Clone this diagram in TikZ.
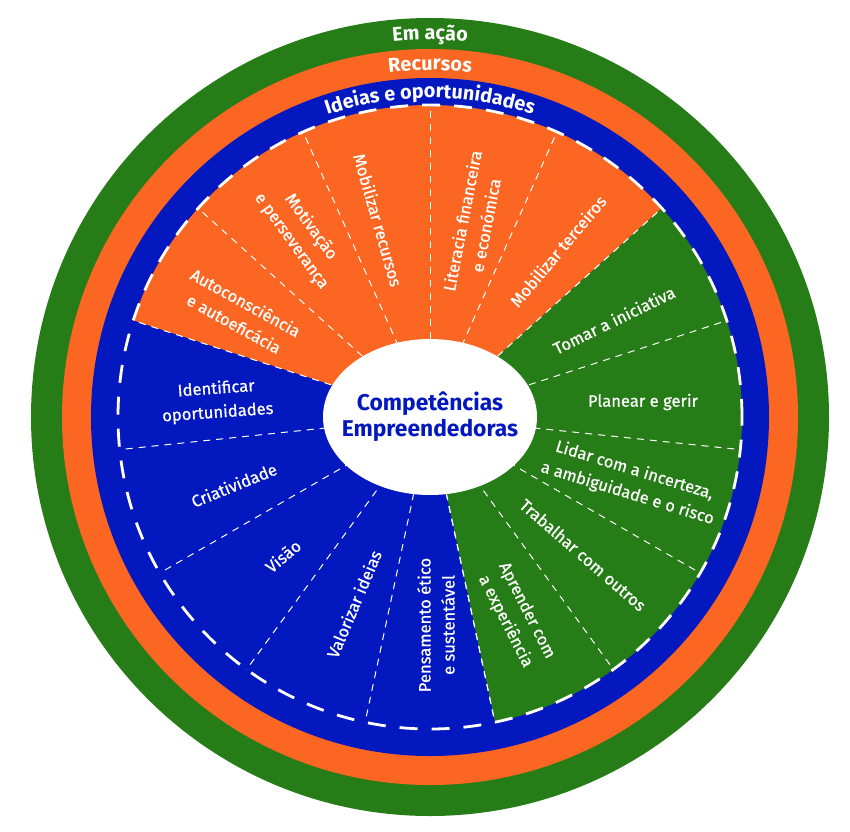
\documentclass[tikz,border=0pt]{standalone}
\usepackage{fontspec}
\setmainfont{Fira Sans}
\newfontfamily\wheelfont{Fira Sans}[FakeBold=0.7]
\usetikzlibrary{decorations.text,shapes.geometric}
\definecolor{wgreen}{RGB}{38,124,22}
\definecolor{worange}{RGB}{251,102,35}
\definecolor{wblue}{RGB}{3,24,190}
\begin{document}
\begin{tikzpicture}[x=0.5pt,y=0.5pt,
  seclabel/.style={text=white, font=\wheelfont\fontsize{8.3}{12}\selectfont, align=center, inner sep=0pt},
  raddash/.style={white, line width=0.5pt, dash pattern=on 3.5pt off 3pt},
  rimdash/.style={white, line width=1.4pt, dash pattern=on 9pt off 7pt},
  ringdeco/.style={decorate}
]
\useasboundingbox (-430,-414) rectangle (420,417);
% rings
\fill[wgreen] (0,0) circle[radius=399];
\fill[worange] (0,0) circle[radius=368];
\fill[wblue] (0,0) circle[radius=339];
% sectors
\fill[worange] (0,0) -- (42:312) arc[start angle=42, end angle=162, radius=312] -- cycle;
\fill[wgreen] (0,0) -- (-78:312) arc[start angle=-78, end angle=42, radius=312] -- cycle;
\fill[wblue] (0,0) -- (162:312) arc[start angle=162, end angle=282, radius=312] -- cycle;
% radial dashed separators
\foreach \a in {-78,-54,...,282} \draw[raddash] (0,0) -- (\a:312);
% dashed rim
\draw[rimdash] (0,0) circle[radius=312];
% hub
\node[ellipse, fill=white, minimum width=107pt, minimum height=78pt, inner sep=0pt] (hub) at (0,0) {};
\node[font=\bfseries\fontsize{11.4}{13}\selectfont, text=wblue, align=center] (title) at (hub.center) {Competências\\Empreendedoras};
% orange labels
\node[seclabel, rotate=-29] (l1) at (-190,104) {Autoconsciência\\e autoeficácia};
\node[seclabel, rotate=-54] (l2) at (-129,183) {Motivação\\e perseverança};
\node[seclabel, rotate=-74] (l3) at (-52,197) {Mobilizar recursos};
\node[seclabel, rotate=79] (l4) at (44,194) {Literacia financeira\\e económica};
\node[seclabel, rotate=50] (l5) at (128,166) {Mobilizar terceiros};
% green labels
\node[seclabel, rotate=26] (l6) at (184,97) {Tomar a iniciativa};
\node[seclabel, rotate=0] (l7) at (213,15) {Planear e gerir};
\node[seclabel, rotate=-17] (l8) at (201,-65) {Lidar com a incerteza,\\a ambiguidade e o risco};
\node[seclabel, rotate=-41] (l9) at (153,-138) {Trabalhar com outros};
\node[seclabel, rotate=-63] (l10) at (86,-199) {Aprender com\\a experiência};
% blue labels
\node[seclabel, rotate=4] (l11) at (-213,16) {Identificar\\oportunidades};
\node[seclabel, rotate=22] (l12) at (-196,-68) {Criatividade};
\node[seclabel, rotate=40] (l13) at (-147,-139) {Visão};
\node[seclabel, rotate=67] (l14) at (-76,-187) {Valorizar ideias};
\node[seclabel, rotate=90] (l15) at (6,-208) {Pensamento ético\\e sustentável};
% ring titles
\path[ringdeco, decoration={text along path, text align=center, text color=white,
  text={|\fontsize{9.9}{12}\selectfont\bfseries|Em ação}}]
  (150:377) arc[start angle=150, end angle=30, radius=377];
\path[ringdeco, decoration={text along path, text align=center, text color=white,
  text={|\fontsize{9.9}{12}\selectfont\bfseries|Recursos}}]
  (150:347) arc[start angle=150, end angle=30, radius=347];
\path[ringdeco, decoration={text along path, text align=center, text color=white,
  text={|\fontsize{9.9}{12}\selectfont\bfseries|Ideias e oportunidades}}]
  (150:319) arc[start angle=150, end angle=30, radius=319];
\end{tikzpicture}
\end{document}
